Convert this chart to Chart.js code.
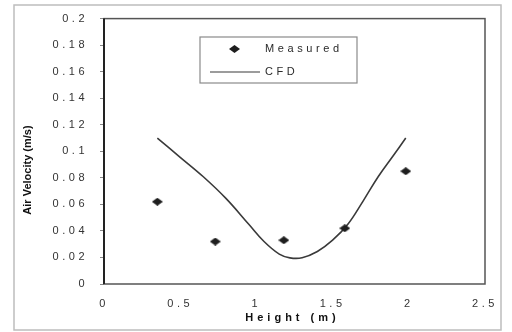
<!DOCTYPE html>
<html>
<head>
<meta charset="utf-8">
<script src="https://cdn.jsdelivr.net/npm/chart.js@4/dist/chart.umd.min.js"></script>
<style>
  html, body { margin: 0; padding: 0; background: #fff; }
  #wrap { width: 512px; height: 332px; }
</style>
</head>
<body>
<div id="wrap"><canvas id="mycanvas1" width="512" height="332"></canvas></div>
<script>
// measured points
var measuredX = [0.35, 0.73, 1.18, 1.58, 1.98];
var measuredY = [0.062, 0.032, 0.033, 0.042, 0.085];

// CFD curve
var cfdX = [0.35, 0.50, 0.65, 0.80, 0.95, 1.05, 1.15, 1.22, 1.30, 1.40, 1.50, 1.60, 1.70, 1.80, 1.90, 1.98];
var cfdY = [0.110, 0.0955, 0.081, 0.0645, 0.045, 0.032, 0.0225, 0.0197, 0.0198, 0.0245, 0.033, 0.045, 0.0625, 0.081, 0.097, 0.110];

var xTicks = [0, 0.5, 1, 1.5, 2, 2.5];
var yTicks = [0, 0.02, 0.04, 0.06, 0.08, 0.1, 0.12, 0.14, 0.16, 0.18, 0.2];

var fontFam = 'Arial, "Liberation Sans", sans-serif';

function pairs(xs, ys) {
  var out = [];
  for (var i in xs) out.push({x: xs[i], y: ys[i]});
  return out;
}

// flattened diamond marker
var diamond = document.createElement('canvas');
diamond.width = 11; diamond.height = 8;
var dctx = diamond.getContext('2d');
dctx.fillStyle = '#1e1e1e';
dctx.beginPath();
dctx.moveTo(5.5, 0); dctx.lineTo(11, 4); dctx.lineTo(5.5, 8); dctx.lineTo(0, 4);
dctx.closePath(); dctx.fill();

var frame = {
  id: 'frame',
  beforeDraw: function(chart) {
    chart.ctx.letterSpacing = '3.5px';
  },
  afterDraw: function(chart) {
    var ctx = chart.ctx, a = chart.chartArea;
    ctx.save();
    ctx.letterSpacing = '0px';
    // outer border
    ctx.strokeStyle = '#bdbdbd'; ctx.lineWidth = 1.5;
    ctx.strokeRect(14, 5, 487, 325);
    // plot border
    ctx.strokeStyle = '#555'; ctx.lineWidth = 1.5;
    ctx.strokeRect(a.left, a.top, a.right - a.left, a.bottom - a.top);
    ctx.strokeStyle = '#222'; ctx.lineWidth = 2;
    ctx.beginPath(); ctx.moveTo(a.left, a.top); ctx.lineTo(a.left, a.bottom); ctx.stroke();

    // axis titles
    ctx.fillStyle = '#111';
    ctx.font = 'bold 11px ' + fontFam;
    ctx.textAlign = 'center'; ctx.textBaseline = 'middle';
    ctx.letterSpacing = '4px';
    ctx.fillText('Height (m)', (a.left + a.right) / 2 - 2, 318);
    ctx.letterSpacing = '0px';
    ctx.translate(28, 170);
    ctx.rotate(-Math.PI / 2);
    ctx.fillText('Air Velocity (m/s)', 0, 0);
    ctx.setTransform(1, 0, 0, 1, 0, 0);

    // legend
    var ds = chart.data.datasets;
    ctx.strokeStyle = '#8a8a8a'; ctx.lineWidth = 1.2;
    ctx.strokeRect(200, 37, 157, 46);
    ctx.drawImage(diamond, 229, 45);
    ctx.strokeStyle = ds[1].borderColor; ctx.lineWidth = 1.2;
    ctx.beginPath(); ctx.moveTo(210, 72); ctx.lineTo(260, 72); ctx.stroke();
    ctx.fillStyle = '#2a2a2a';
    ctx.font = '11px ' + fontFam;
    ctx.textAlign = 'left';
    ctx.letterSpacing = '3.6px';
    ctx.fillText(ds[0].label, 265, 49);
    ctx.fillText(ds[1].label, 265, 72);
    ctx.restore();
  }
};

var chartdata = {
  datasets: [
    {
      label: 'Measured',
      data: pairs(measuredX, measuredY),
      pointStyle: diamond,
      pointRadius: 5,
      showLine: false
    },
    {
      label: 'CFD',
      data: pairs(cfdX, cfdY),
      showLine: true,
      borderColor: '#3a3a3a',
      borderWidth: 1.6,
      pointRadius: 0,
      tension: 0.4
    }
  ]
};

new Chart(document.getElementById('mycanvas1'), {
  type: 'scatter',
  data: chartdata,
  plugins: [frame],
  options: {
    responsive: false,
    animation: false,
    layout: { padding: { top: 16, right: 27, left: 0, bottom: 0 } },
    plugins: { legend: { display: false }, tooltip: { enabled: false } },
    scales: {
      x: {
        type: 'linear', min: 0, max: 2.5,
        afterBuildTicks: function(s) { s.ticks = xTicks.map(function(v) { return {value: v}; }); },
        afterFit: function(s) { s.height = 48; },
        grid: { display: false },
        border: { display: false },
        ticks: { color: '#333', padding: 5, font: { size: 11, family: fontFam },
          callback: function(v) { return String(v); } }
      },
      y: {
        type: 'linear', min: 0, max: 0.2,
        afterBuildTicks: function(s) { s.ticks = yTicks.map(function(v) { return {value: v}; }); },
        afterFit: function(s) { s.width = 104; },
        grid: { drawOnChartArea: false, drawTicks: true, tickLength: 4, color: '#888' },
        border: { display: false },
        ticks: { color: '#333', padding: 12, font: { size: 11, family: fontFam },
          callback: function(v) { return String(v); } }
      }
    }
  }
});
</script>
</body>
</html>
